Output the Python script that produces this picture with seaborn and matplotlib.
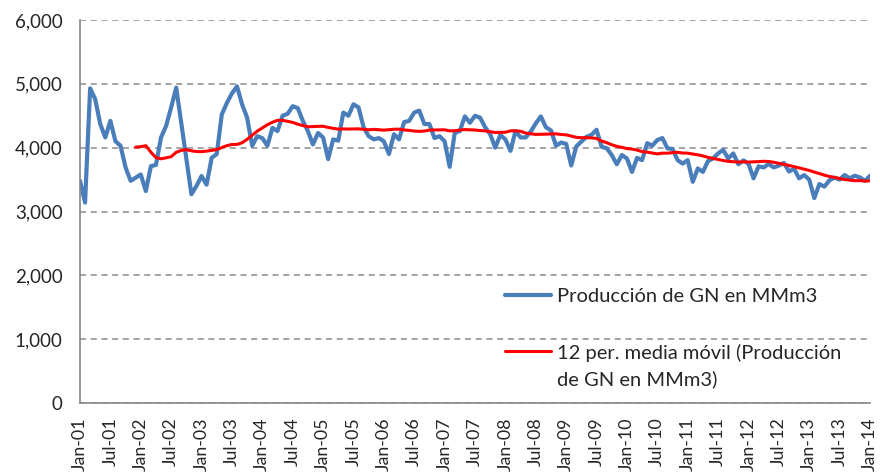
import matplotlib
matplotlib.use("Agg")
import matplotlib.pyplot as plt
import seaborn as sns
import pandas as pd
from matplotlib.ticker import FuncFormatter

# Monthly natural gas production (MMm3), Jan-2001 .. Jan-2014
production = [
    3480, 3140, 4930, 4760, 4370, 4160, 4420, 4100, 4030, 3690, 3480, 3530,  # 2001
    3580, 3320, 3710, 3730, 4160, 4340, 4630, 4940, 4380, 3820, 3270, 3400,  # 2002
    3555, 3420, 3840, 3900, 4520, 4700, 4850, 4960, 4680, 4470, 4030, 4180,  # 2003
    4150, 4030, 4310, 4260, 4500, 4530, 4650, 4620, 4420, 4260, 4050, 4230,  # 2004
    4160, 3820, 4130, 4110, 4550, 4500, 4680, 4630, 4320, 4180, 4130, 4150,  # 2005
    4100, 3900, 4210, 4130, 4400, 4420, 4550, 4580, 4370, 4370, 4150, 4180,  # 2006
    4100, 3700, 4230, 4260, 4490, 4390, 4500, 4470, 4320, 4210, 4000, 4200,  # 2007
    4130, 3950, 4260, 4160, 4160, 4250, 4380, 4490, 4320, 4270, 4030, 4080,  # 2008
    4060, 3720, 4020, 4095, 4170, 4200, 4280, 4015, 3990, 3885, 3740, 3885,  # 2009
    3830, 3620, 3840, 3805, 4070, 4030, 4120, 4150, 3990, 3980, 3805, 3750,  # 2010
    3805, 3465, 3675, 3620, 3790, 3830, 3910, 3965, 3830, 3910, 3740, 3800,  # 2011
    3750, 3520, 3707, 3690, 3745, 3690, 3720, 3760, 3627, 3670, 3520, 3570,  # 2012
    3500, 3210, 3430, 3390, 3490, 3530, 3500, 3572, 3520, 3560, 3535, 3480,  # 2013
    3560,                                                                    # 2014
]

tick_labels = [
    "Jan-01", "Jul-01", "Jan-02", "Jul-02", "Jan-03", "Jul-03", "Jan-04",
    "Jul-04", "Jan-05", "Jul-05", "Jan-06", "Jul-06", "Jan-07", "Jul-07",
    "Jan-08", "Jul-08", "Jan-09", "Jul-09", "Jan-10", "Jul-10", "Jan-11",
    "Jul-11", "Jan-12", "Jul-12", "Jan-13", "Jul-13", "Jan-14",
]
y_ticks = [0, 1000, 2000, 3000, 4000, 5000, 6000]

label_prod = "Producción de GN en MMm3"
label_ma = "12 per. media móvil (Producción\nde GN en MMm3)"
window = 12

sns.set_style("white")
plt.rcParams["font.family"] = ["Lato", "DejaVu Sans"]

df = pd.DataFrame({"mes": range(len(production)), "prod": production})
df["mm"] = df["prod"].rolling(window).mean()

W, H = 880, 476
fig = plt.figure(figsize=(W / 100, H / 100), dpi=100)
ax = fig.add_axes([80 / W, 1 - 403 / H, 790 / W, 383 / H])

sns.lineplot(data=df, x="mes", y="prod", ax=ax, color="#4A7EBB", lw=3.0,
             label=label_prod)
sns.lineplot(data=df.dropna(), x="mes", y="mm", ax=ax, color="#FF0000", lw=2.2,
             label=label_ma)

ax.set_xlim(0, len(production) - 1)
ax.set_ylim(0, 6000)
ax.set_yticks(y_ticks)
ax.yaxis.set_major_formatter(FuncFormatter(lambda v, p: f"{int(v):,}"))
ax.set_xticks(range(0, len(production), 6))
ax.set_xticklabels(tick_labels, rotation=90)
ax.set_xlabel("")
ax.set_ylabel("")

ax.yaxis.grid(True, linestyle=(0, (4, 3)), color="#8c8c8c", lw=1.1)
ax.xaxis.grid(False)
ax.set_axisbelow(True)
for s in ("top", "right"):
    ax.spines[s].set_visible(False)
for s in ("left", "bottom"):
    ax.spines[s].set_color("#868686")
    ax.spines[s].set_linewidth(1.2)

ax.tick_params(axis="y", direction="out", length=3.5, width=1, color="#868686",
               labelsize=13.5, pad=9)
ax.tick_params(axis="x", direction="out", length=3.5, width=1, color="#868686",
               labelsize=12.8, pad=7)

leg = ax.legend(loc="upper left", bbox_to_anchor=((505 - 80) / 790, (403 - 288) / 383),
                frameon=False, fontsize=14.5, handlelength=2.3, handletextpad=0.3,
                labelspacing=1.95, borderpad=0, borderaxespad=0)
for t in leg.get_texts():
    t.set_linespacing(1.55)
# align each handle with the first line of its label
for col in leg._legend_handle_box.get_children():
    for item in col.get_children():
        item.align = "top"

fig.savefig("out.png", dpi=100)
